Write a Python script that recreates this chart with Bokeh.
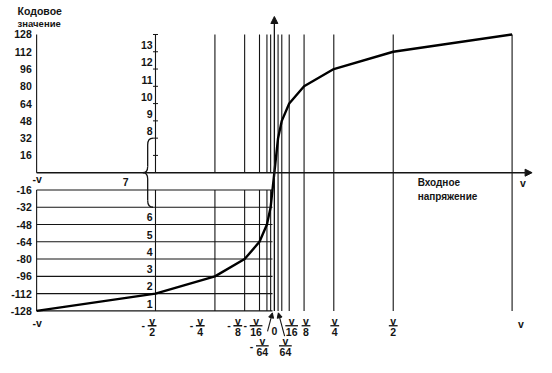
from bokeh.plotting import figure
from bokeh.models import Range1d, Arrow, NormalHead
from bokeh.core.properties import value
from bokeh.embed import file_html
from bokeh.resources import INLINE

# ---------------- data ----------------
curve_x = [-1, -1/2, -1/4, -1/8, -1/16, -1/32, -1/64, 1/64, 1/32, 1/16, 1/8, 1/4, 1/2, 1]
curve_code = [-128, -112, -96, -80, -64, -48, -32, 32, 48, 64, 80, 96, 112, 128]

code_ticks_pos = [16, 32, 48, 64, 80, 96, 112, 128]
code_ticks_neg = [-16, -32, -48, -64, -80, -96, -112, -128]
code_labels_pos = ["16", "32", "48", "64", "80", "96", "112", "128"]
code_labels_neg = ["-16", "-32", "-48", "-64", "-80", "-96", "-112", "-128"]

grid_x_neg = [-1, -1/2, -1/4, -1/8, -1/16, -1/32, -1/64]
grid_x_pos = [1/64, 1/32, 1/16, 1/8, 1/4, 1/2, 1]

seg_upper_labels = ["8", "9", "10", "11", "12", "13"]
seg_upper_mid = [40, 56, 72, 88, 104, 120]
seg_lower_labels = ["6", "5", "4", "3", "2", "1"]
seg_lower_mid = [-40, -56, -72, -88, -104, -120]
seg_mid_label = "7"

frac_x = [-1/2, -1/4, -1/8, -1/16, 1/16, 1/8, 1/4, 1/2]
frac_den = ["2", "4", "8", "16", "16", "8", "4", "2"]
frac_neg = [True, True, True, True, False, False, False, False]
frac_dx = [-3.5, -15, -7, -3.5, 2.5, 2, 1, 0]

small_x = [-1/64, 1/64]
small_den = ["64", "64"]
small_neg = [True, False]
small_dx = [-8.5, 7.5]

plain_x = [-1, 0, 1]
plain_lab = ["-v", "0", "v"]
plain_dx = [0.5, 0, 9]
plain_dy = [12, 21, 13]

# ---------------- geometry ----------------
# layout measured on the 552x373 drawing (px), fitted into the figure
REF_W, REF_H = 549, 368
SX = 243.5      # ref px per unit of input voltage
SY = 1.113      # ref px per code step
X0 = 280.5      # ref px of x = 0
Y0 = 177.5      # ref px (from top) of code 0
W, H = 536, 357

p = figure(width=W, height=H, output_backend="svg", toolbar_location=None,
           x_range=Range1d(-X0 / SX, (REF_W - X0) / SX),
           y_range=Range1d(-(REF_H - Y0) / SY, Y0 / SY),
           min_border=0, outline_line_color=None,
           background_fill_color="white", border_fill_color="white")
p.axis.visible = False
p.grid.visible = False


def ax(xv, dx=0.0):
    return xv + dx / SX


def ay(code, dy=0.0):  # dy positive = downwards
    return code - dy / SY


INK = "#141414"
FONT = value("Liberation Sans")
BOLD = "bold"
FS = "10.5px"

# ---------------- grid lines ----------------
top = max(curve_code)
bot = min(curve_code)
p.segment(x0=grid_x_neg, y0=[0] * len(grid_x_neg), x1=grid_x_neg, y1=[top] * len(grid_x_neg),
          line_color=INK, line_width=1.1)
p.segment(x0=grid_x_neg, y0=[code_ticks_neg[0]] * len(grid_x_neg), x1=grid_x_neg,
          y1=[bot] * len(grid_x_neg), line_color=INK, line_width=1.1)
p.segment(x0=grid_x_pos, y0=[bot] * len(grid_x_pos), x1=grid_x_pos, y1=[top] * len(grid_x_pos),
          line_color=INK, line_width=1.1)
neg_right = -1 / 128
p.segment(x0=[-1] * len(code_ticks_neg), y0=code_ticks_neg,
          x1=[neg_right] * len(code_ticks_neg), y1=code_ticks_neg,
          line_color=INK, line_width=1.1)

# zero axis (vertical) and x axis with arrows
p.add_layout(Arrow(x_start=0, y_start=bot, x_end=0, y_end=ay(0, -161),
                   line_color=INK, line_width=1.3,
                   end=NormalHead(size=7, fill_color=INK, line_color=INK, line_width=1)))
p.add_layout(Arrow(x_start=-1, y_start=0, x_end=ax(1, 20.5), y_end=0,
                   line_color=INK, line_width=1.4,
                   end=NormalHead(size=7, fill_color=INK, line_color=INK, line_width=1)))

# segment axis ticks at -v/2
p.scatter(x=[-1/2] * len(code_ticks_pos), y=code_ticks_pos, marker="dash", size=5,
          line_color=INK, line_width=1)

# ---------------- brace for segment 7 ----------------
bx = -1/2
xs_out = ax(bx, -2.5)
xs_in = ax(bx, -8.0)
xs_tip = ax(bx, -13.0)
seg_lo = curve_code[6]   # -32
seg_hi = curve_code[7]   # 32
p.quadratic(x0=[xs_out, xs_in, xs_tip, xs_in],
            y0=[seg_hi, ay(0, -6.5), 0, ay(seg_lo, -7)],
            x1=[xs_in, xs_tip, xs_in, xs_out],
            y1=[ay(seg_hi, 7), 0, ay(0, 6.5), seg_lo],
            cx=[xs_in, xs_in, xs_in, xs_in],
            cy=[seg_hi, 0, 0, seg_lo],
            line_color=INK, line_width=1.3)
p.segment(x0=[xs_in, xs_in], y0=[ay(seg_hi, 7), ay(0, 6.5)],
          x1=[xs_in, xs_in], y1=[ay(0, -6.5), ay(seg_lo, -7)],
          line_color=INK, line_width=1.3)

# ---------------- curve ----------------
p.line(curve_x, curve_code, line_color="black", line_width=2.4, line_join="round")

# ---------------- texts ----------------
def txt(x, y, t, size=FS, align="center", style=BOLD, baseline="middle"):
    p.text(x=x, y=y, text=t, text_font=FONT, text_font_size=size,
           text_font_style=style, text_color=INK, text_align=align,
           text_baseline=baseline)

# code value labels on the left
txt([ax(-1, -5)] * 8, code_ticks_pos, code_labels_pos, align="right")
txt([ax(-1, -5)] * 8, code_ticks_neg, code_labels_neg, align="right")

# title
txt([ax(-1, -19.5)], [ay(top, -24)], ["Кодовое"], align="left")
txt([ax(-1, -19.5)], [ay(top, -11)], ["значение"], size="9.5px", align="left")

# segment numbers
txt([ax(-1/2, -3)] * 6, [ay(c, 2) for c in seg_upper_mid], seg_upper_labels, align="right")
txt([ax(-1/2, -3)] * 6, [ay(c, 1.5) for c in seg_lower_mid], seg_lower_labels, align="right")
txt([ax(-1/2, -30.5)], [ay(0, 9.5)], [seg_mid_label])

# -v at the left end of the x axis
txt([ax(-1, 0.5)], [ay(0, 7)], ["-v"])

# input voltage label
txt([ax(1/2, 25)], [ay(0, 10.5)], ["Входное"], align="left", size="10px")
txt([ax(1/2, 25)], [ay(0, 24.5)], ["напряжение"], align="left", size="10px")
txt([ax(1, 11)], [ay(0, 11)], ["v"])

# bottom plain labels
txt([ax(x, d) for x, d in zip(plain_x, plain_dx)],
    [ay(bot, d) for d in plain_dy], plain_lab)

# fractions, first row
fx = [ax(x, d) for x, d in zip(frac_x, frac_dx)]
txt(fx, [ay(bot, 10.5)] * len(fx), ["v"] * len(fx))
txt(fx, [ay(bot, 21.5)] * len(fx), frac_den)
bar_w = [4.5 if len(d) == 1 else 6.5 for d in frac_den]
p.segment(x0=[ax(x, d - b) for x, d, b in zip(frac_x, frac_dx, bar_w)],
          y0=[ay(bot, 15.3)] * len(fx),
          x1=[ax(x, d + b) for x, d, b in zip(frac_x, frac_dx, bar_w)],
          y1=[ay(bot, 15.3)] * len(fx), line_color=INK, line_width=1.3)
neg_f = [ax(x, d - (9 if len(t) == 1 else 11))
         for x, d, t, n in zip(frac_x, frac_dx, frac_den, frac_neg) if n]
txt(neg_f, [ay(bot, 15)] * len(neg_f), ["-"] * len(neg_f))

# fractions, second row (+-v/64)
sx_ = [ax(x, d) for x, d in zip(small_x, small_dx)]
txt(sx_, [ay(bot, 31)] * 2, ["v"] * 2)
txt(sx_, [ay(bot, 42.5)] * 2, small_den)
p.segment(x0=[ax(x, d - 6.5) for x, d in zip(small_x, small_dx)], y0=[ay(bot, 36)] * 2,
          x1=[ax(x, d + 6.5) for x, d in zip(small_x, small_dx)], y1=[ay(bot, 36)] * 2,
          line_color=INK, line_width=1.3)
neg_s = [ax(x, d - 11) for x, d, n in zip(small_x, small_dx, small_neg) if n]
txt(neg_s, [ay(bot, 36)] * len(neg_s), ["-"] * len(neg_s))

# pointer arrows to +-v/64 lines
for x, tail_dx, tail_dy, tip_dx in [(small_x[0], -3.2, 21, 1.8), (small_x[1], 6.7, 26, 0.3)]:
    p.add_layout(Arrow(x_start=ax(x, tail_dx), y_start=ay(bot, tail_dy),
                       x_end=ax(x, tip_dx), y_end=ay(bot, 2),
                       line_color=INK, line_width=1.1,
                       end=NormalHead(size=5, fill_color=INK, line_color=INK, line_width=1)))

open("out.html", "w").write(file_html(p, INLINE))
